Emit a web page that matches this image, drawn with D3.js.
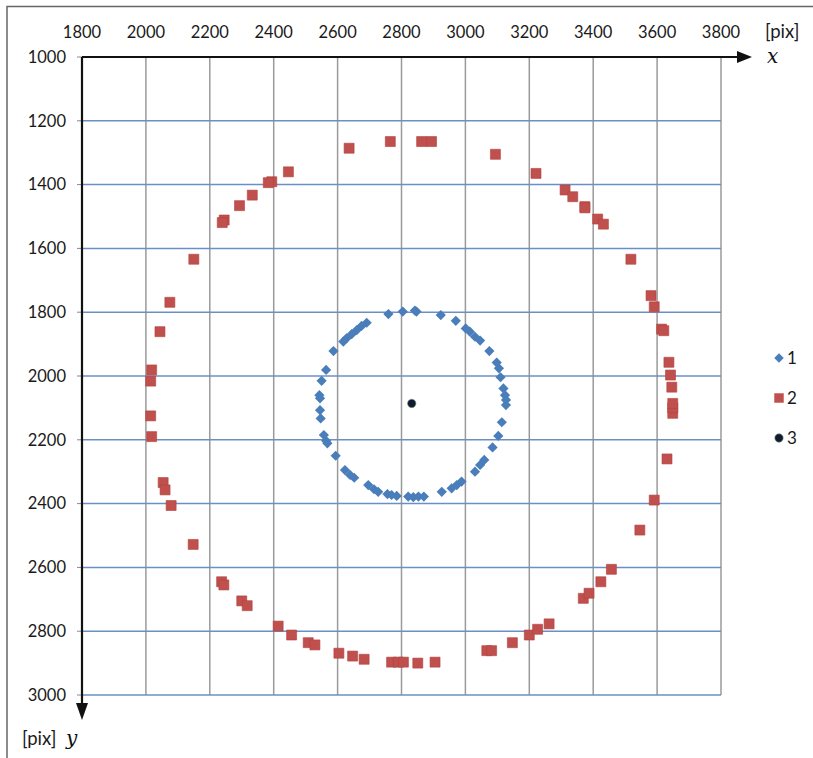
<!DOCTYPE html>
<html>
<head>
<meta charset="utf-8">
<script src="https://cdn.jsdelivr.net/npm/d3@7"></script>
<style>
  body { margin: 0; background: #fff; }
  text { font-family: Lato, "Open Sans", sans-serif; }
</style>
</head>
<body>
<svg width="813" height="758"></svg>
<script>
// series 1 - inner ring (blue diamonds)
var ring1X = [2759, 2804, 2842, 2847, 2923, 2970, 3001, 3014, 3030, 3046, 3075, 3098, 3105, 3110, 3119, 3124, 3127, 3127,
  3114, 3103, 3085, 3059, 3046, 3030, 2988, 2973, 2957, 2926, 2870, 2853, 2837, 2821, 2785, 2769, 2756, 2727, 2714, 2696,
  2652, 2639, 2623, 2594, 2568, 2564, 2557, 2547, 2545, 2545, 2543, 2550, 2564, 2587, 2618, 2628, 2644, 2660, 2675, 2691];
var ring1Y = [1806, 1798, 1795, 1798, 1809, 1827, 1851, 1861, 1877, 1889, 1922, 1958, 1976, 2004, 2039, 2060, 2075, 2091,
  2145, 2188, 2224, 2263, 2279, 2300, 2331, 2342, 2352, 2363, 2378, 2378, 2380, 2378, 2376, 2373, 2370, 2363, 2355, 2342,
  2319, 2310, 2295, 2250, 2211, 2203, 2185, 2133, 2107, 2070, 2060, 2015, 1981, 1922, 1892, 1882, 1869, 1856, 1843, 1833];

// series 2 - outer ring (red squares)
var ring2X = [2636, 2765, 2863, 2894, 2446, 2394, 2383, 2333, 2293, 2245, 2239, 2150, 2075, 2044, 2018, 2015,
  2015, 2018, 2054, 2060, 2079, 2148, 2237, 2244, 2300, 2317, 2414, 2456, 2508, 2529, 2604, 2647, 2683, 2769, 2790, 2806, 2851, 2905,
  3067, 3082, 3147, 3200, 3226, 3262, 3369, 3387, 3424, 3457, 3546, 3591, 3631, 3649, 3649,
  3094, 3221, 3312, 3336, 3374, 3374, 3414, 3432, 3518, 3581, 3591, 3614, 3621, 3637, 3642, 3646, 3649];
var ring2Y = [1286, 1265, 1265, 1265, 1360, 1391, 1394, 1433, 1466, 1511, 1519, 1634, 1769, 1861, 1981, 2016,
  2125, 2190, 2334, 2357, 2406, 2528, 2645, 2655, 2705, 2720, 2784, 2812, 2836, 2843, 2869, 2878, 2888, 2897, 2897, 2897, 2900, 2897,
  2861, 2861, 2836, 2812, 2794, 2777, 2697, 2681, 2645, 2606, 2483, 2389, 2260, 2117, 2100,
  1305, 1365, 1417, 1438, 1469, 1473, 1508, 1524, 1634, 1748, 1783, 1853, 1858, 1957, 1997, 2035, 2086];

// series 3 - centre
var centreX = [2832];
var centreY = [2086];

var xTicks = [1800, 2000, 2200, 2400, 2600, 2800, 3000, 3200, 3400, 3600, 3800];
var yTicks = [1000, 1200, 1400, 1600, 1800, 2000, 2200, 2400, 2600, 2800, 3000];
var legendNames = ["1", "2", "3"];

var svg = d3.select("svg");

var x = d3.scaleLinear().domain([1800, 3800]).range([82, 721]);
var y = d3.scaleLinear().domain([1000, 3000]).range([57, 695]);

// frame (only top and left edges are visible)
svg.append("path")
    .attr("d", "M7,758V6.5H813")
    .attr("fill", "none")
    .attr("stroke", "#666")
    .attr("stroke-width", 1.5);

// grid
svg.append("g").selectAll("line")
    .data(xTicks.slice(1))
  .enter().append("line")
    .attr("x1", function(d) { return x(d); })
    .attr("x2", function(d) { return x(d); })
    .attr("y1", y(1000))
    .attr("y2", y(3000))
    .attr("stroke", "#9a9a9a")
    .attr("stroke-width", 1.5);

svg.append("g").selectAll("line")
    .data(yTicks.slice(1))
  .enter().append("line")
    .attr("x1", x(1800))
    .attr("x2", x(3800))
    .attr("y1", function(d) { return y(d); })
    .attr("y2", function(d) { return y(d); })
    .attr("stroke", "#6a8fc8")
    .attr("stroke-width", 1.5);

// tick labels
svg.append("g").selectAll("text")
    .data(xTicks)
  .enter().append("text")
    .attr("x", function(d) { return x(d); })
    .attr("y", 38)
    .attr("text-anchor", "middle")
    .attr("font-size", 16.5)
    .attr("fill", "#1a1a1a")
    .text(function(d) { return d; });

svg.append("g").selectAll("text")
    .data(yTicks)
  .enter().append("text")
    .attr("x", 66)
    .attr("y", function(d) { return y(d); })
    .attr("dy", "0.35em")
    .attr("text-anchor", "end")
    .attr("font-size", 16.5)
    .attr("fill", "#1a1a1a")
    .text(function(d) { return d; });

// small ticks on the y axis
svg.append("g").selectAll("line")
    .data(yTicks)
  .enter().append("line")
    .attr("x1", x(1800) - 5)
    .attr("x2", x(1800))
    .attr("y1", function(d) { return y(d); })
    .attr("y2", function(d) { return y(d); })
    .attr("stroke", "#888");

// axes with arrows
svg.append("line")
    .attr("x1", x(1800)).attr("x2", 740)
    .attr("y1", y(1000)).attr("y2", y(1000))
    .attr("stroke", "#111").attr("stroke-width", 2.2);
svg.append("path")
    .attr("d", "M737,51L752,57L737,63Z")
    .attr("fill", "#111");

svg.append("line")
    .attr("x1", x(1800)).attr("x2", x(1800))
    .attr("y1", y(1000)).attr("y2", 705)
    .attr("stroke", "#111").attr("stroke-width", 2.2);
svg.append("path")
    .attr("d", "M76,703L82,720L88,703Z")
    .attr("fill", "#111");

// axis names
svg.append("text")
    .attr("x", 765).attr("y", 38)
    .attr("font-size", 18.5).attr("fill", "#1a1a1a")
    .text("[pix]");
svg.append("text")
    .attr("x", 767).attr("y", 63)
    .style("font-family", "'DejaVu Serif', 'Liberation Serif', serif")
    .style("font-style", "italic")
    .attr("font-size", 20).attr("fill", "#111")
    .text("x");
svg.append("text")
    .attr("x", 22).attr("y", 745)
    .attr("font-size", 18.5).attr("fill", "#1a1a1a")
    .text("[pix]");
svg.append("text")
    .attr("x", 66).attr("y", 745)
    .style("font-family", "'DejaVu Serif', 'Liberation Serif', serif")
    .style("font-style", "italic")
    .attr("font-size", 20).attr("fill", "#111")
    .text("y");

// series 2 squares
svg.append("g").selectAll("path")
    .data(ring2X)
  .enter().append("path")
    .attr("transform", function(d, i) { return "translate(" + x(d) + "," + y(ring2Y[i]) + ")"; })
    .attr("d", d3.symbol().type(d3.symbolSquare).size(100))
    .attr("fill", "#c0504d")
    .attr("stroke", "#b4413e")
    .attr("stroke-width", 0.6);

// series 1 diamonds
svg.append("g").selectAll("path")
    .data(ring1X)
  .enter().append("path")
    .attr("transform", function(d, i) { return "translate(" + x(d) + "," + y(ring1Y[i]) + ") rotate(45)"; })
    .attr("d", d3.symbol().type(d3.symbolSquare).size(52))
    .attr("fill", "#4a7ebb");

// series 3 centre
svg.append("g").selectAll("circle")
    .data(centreX)
  .enter().append("circle")
    .attr("cx", function(d) { return x(d); })
    .attr("cy", function(d, i) { return y(centreY[i]); })
    .attr("r", 4.2)
    .attr("fill", "#0f1a33")
    .attr("stroke", "#7a9a6a")
    .attr("stroke-width", 0.6);

// legend
var legend = svg.append("g").selectAll("g")
    .data(legendNames)
  .enter().append("g")
    .attr("transform", function(d, i) { return "translate(779," + (358 + i * 40) + ")"; });

legend.each(function(d, i) {
  var g = d3.select(this);
  if (i === 0) {
    g.append("path").attr("transform", "rotate(45)")
      .attr("d", d3.symbol().type(d3.symbolSquare).size(45))
      .attr("fill", "#4a7ebb");
  } else if (i === 1) {
    g.append("path")
      .attr("d", d3.symbol().type(d3.symbolSquare).size(90))
      .attr("fill", "#c0504d");
  } else {
    g.append("circle").attr("r", 4.2)
      .attr("fill", "#0f1a33").attr("stroke", "#7a9a6a").attr("stroke-width", 0.6);
  }
  g.append("text")
    .attr("x", 8).attr("dy", "0.35em")
    .attr("font-size", 17).attr("fill", "#1a1a1a")
    .text(d);
});
</script>
</body>
</html>
